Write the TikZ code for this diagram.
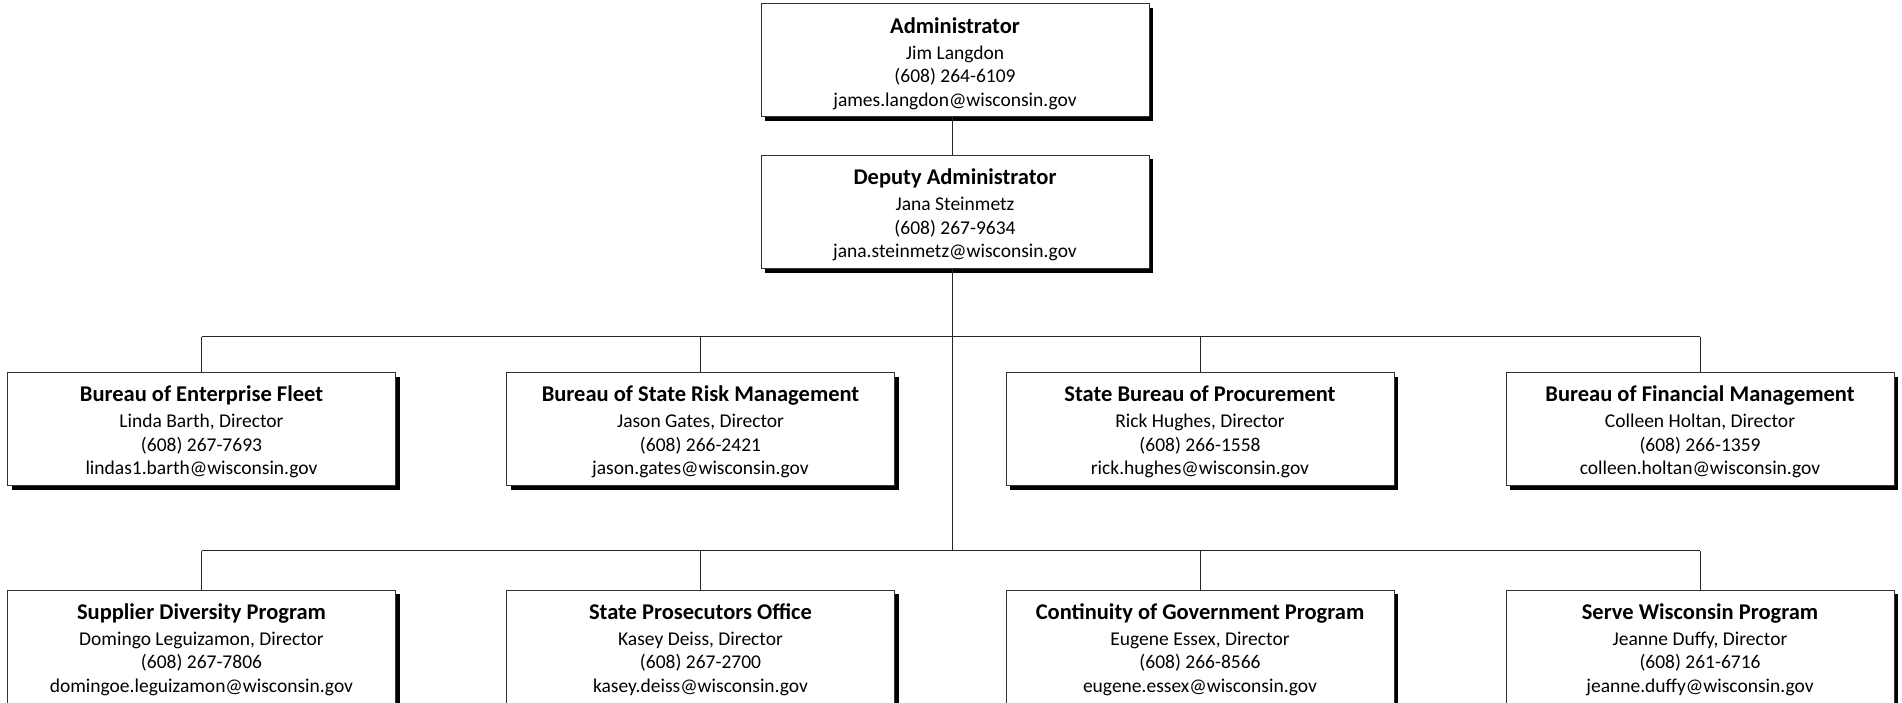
\documentclass[tikz,border=0pt]{standalone}
\usepackage{fontspec}
\setmainfont{Carlito}
\usetikzlibrary{shadows}

\newcommand{\BoxW}{388}
\newcommand{\BoxH}{113}
\newcommand{\TrunkX}{952.7}
\newcommand{\RowA}{60.5}
\newcommand{\RowB}{212}
\newcommand{\RowC}{429}
\newcommand{\RowD}{646.5}
\newcommand{\BarA}{336.5}
\newcommand{\BarB}{550.5}
\newcommand{\unitTitle}[1]{{\rule{0pt}{22pt}\fontsize{22.5}{24}\selectfont\bfseries #1}}
\newcommand{\drawUnit}[6]{
    \node[unit] (#1) at (#2) {\unitTitle{#3}\\[2.5pt]#4\\#5\\#6};
}

\tikzset{
    unit/.style={draw=black!80, line width=1pt, fill=white,
        minimum width=\BoxW, minimum height=\BoxH, inner sep=0pt,
        align=center, font=\fontsize{19.5}{23.5}\selectfont,
        drop shadow={shadow xshift=4pt, shadow yshift=-4pt, opacity=1, fill=black}},
    link/.style={line width=1pt, black!85}
}

\begin{document}
\begin{tikzpicture}[x=1pt, y=-1pt]
    \useasboundingbox (0,0) rectangle (1902,703);

    \coordinate (trunk) at (\TrunkX,0);
    \coordinate (barA) at (0,\BarA);
    \coordinate (barB) at (0,\BarB);

    % top of the chart
    \drawUnit{admin}{955,\RowA}{Administrator}{Jim Langdon}{(608) 264-6109}{james.langdon@wisconsin.gov}
    \drawUnit{deputy}{955,\RowB}{Deputy Administrator}{Jana Steinmetz}{(608) 267-9634}{jana.steinmetz@wisconsin.gov}

    % bureaus
    \drawUnit{fleet}{201.5,\RowC}{Bureau of Enterprise Fleet}{Linda Barth, Director}{(608) 267-7693}{lindas1.barth@wisconsin.gov}
    \drawUnit{risk}{700.5,\RowC}{Bureau of State Risk Management}{Jason Gates, Director}{(608) 266-2421}{jason.gates@wisconsin.gov}
    \drawUnit{procure}{1200,\RowC}{State Bureau of Procurement}{Rick Hughes, Director}{(608) 266-1558}{rick.hughes@wisconsin.gov}
    \drawUnit{finance}{1700,\RowC}{Bureau of Financial Management}{Colleen Holtan, Director}{(608) 266-1359}{colleen.holtan@wisconsin.gov}

    % programs
    \drawUnit{supplier}{201.5,\RowD}{Supplier Diversity Program}{Domingo Leguizamon, Director}{(608) 267-7806}{domingoe.leguizamon@wisconsin.gov}
    \drawUnit{prosecut}{700.5,\RowD}{State Prosecutors Office}{Kasey Deiss, Director}{(608) 267-2700}{kasey.deiss@wisconsin.gov}
    \drawUnit{continuity}{1200,\RowD}{Continuity of Government Program}{Eugene Essex, Director}{(608) 266-8566}{eugene.essex@wisconsin.gov}
    \drawUnit{serve}{1700,\RowD}{Serve Wisconsin Program}{Jeanne Duffy, Director}{(608) 261-6716}{jeanne.duffy@wisconsin.gov}

    \draw[link] (admin.south -| trunk) -- (deputy.north -| trunk);
    \draw[link] (deputy.south -| trunk) -- (barB -| trunk);

    \foreach \u in {fleet,risk,procure,finance}
        \draw[link] (\u.north) -- (\u.north |- barA);
    \draw[link] (fleet.north |- barA) -- (finance.north |- barA);

    \foreach \u in {supplier,prosecut,continuity,serve}
        \draw[link] (\u.north) -- (\u.north |- barB);
    \draw[link] (supplier.north |- barB) -- (serve.north |- barB);
\end{tikzpicture}
\end{document}
